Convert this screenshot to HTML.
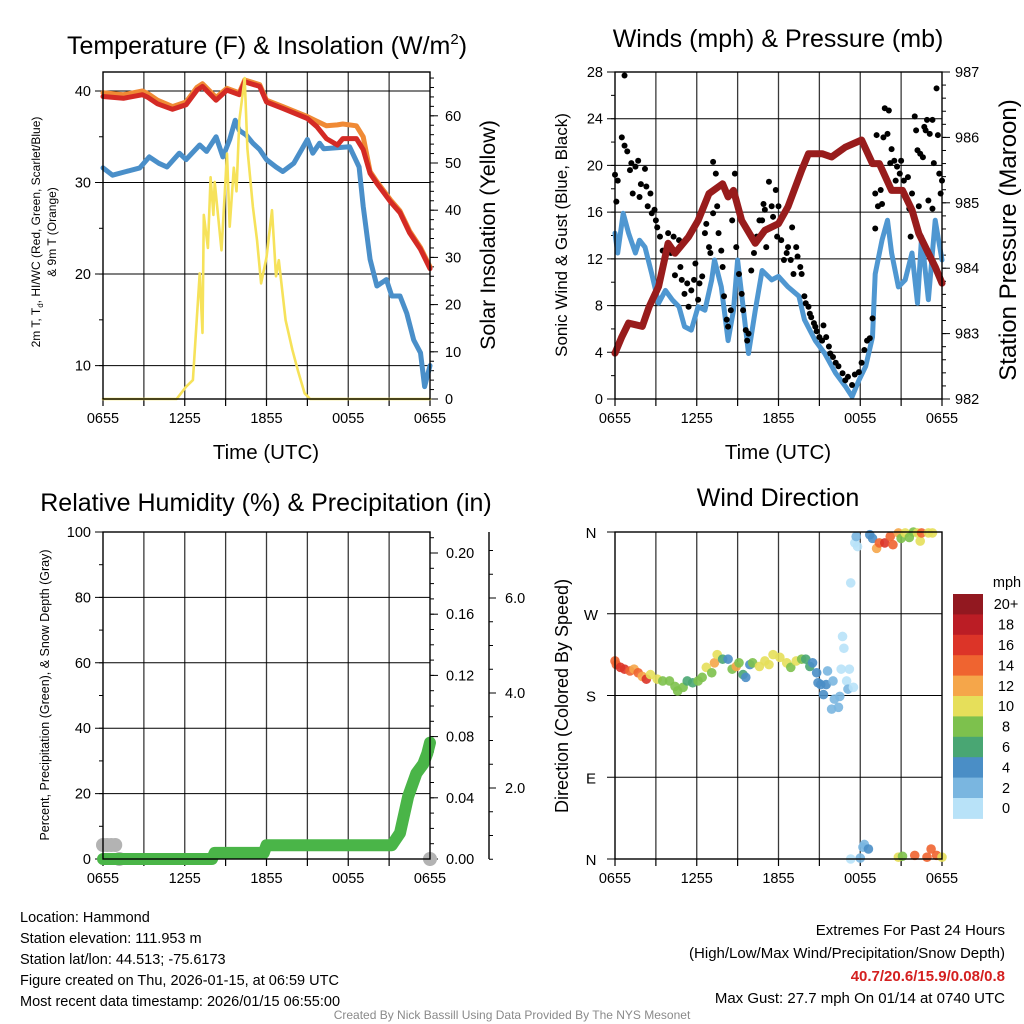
<!DOCTYPE html>
<html><head><meta charset="utf-8"><style>
html,body{margin:0;padding:0;background:#fff;}
svg{display:block;font-family:"Liberation Sans",Arial,sans-serif;}
</style></head><body>
<svg id="chart" width="1024" height="1024" viewBox="0 0 1024 1024" xmlns="http://www.w3.org/2000/svg">
<rect width="1024" height="1024" fill="#fff"/>
<text x="267" y="54" font-size="25" text-anchor="middle">Temperature (F) &amp; Insolation (W/m<tspan font-size="15" dy="-10">2</tspan><tspan dy="10">)</tspan></text>
<text x="778" y="47" font-size="25" text-anchor="middle">Winds (mph) &amp; Pressure (mb)</text>
<text x="266" y="511" font-size="25" text-anchor="middle">Relative Humidity (%) &amp; Precipitation (in)</text>
<text x="778" y="506" font-size="25" text-anchor="middle">Wind Direction</text>
<text x="266" y="459" font-size="20.5" text-anchor="middle">Time (UTC)</text>
<text x="778" y="459" font-size="20.5" text-anchor="middle">Time (UTC)</text>
<text transform="translate(40,232) rotate(-90)" font-size="12" text-anchor="middle">2m T, T<tspan font-size="8" dy="3">d</tspan><tspan dy="-3">, HI/WC (Red, Green, Scarlet/Blue)</tspan></text>
<text transform="translate(56,232) rotate(-90)" font-size="12" text-anchor="middle">&amp; 9m T (Orange)</text>
<text transform="translate(495,235) rotate(-90)" font-size="21.5" text-anchor="middle">Solar Insolation (Yellow)</text>
<text transform="translate(567,235) rotate(-90)" font-size="17" text-anchor="middle">Sonic Wind &amp; Gust (Blue, Black)</text>
<text transform="translate(1016,240) rotate(-90)" font-size="24" text-anchor="middle">Station Pressure (Maroon)</text>
<text transform="translate(49,695) rotate(-90)" font-size="12.5" text-anchor="middle">Percent, Precipitation (Green), &amp; Snow Depth (Gray)</text>
<text transform="translate(568,696) rotate(-90)" font-size="18" text-anchor="middle">Direction (Colored By Speed)</text>
<g font-size="14.5">
<text x="20" y="922">Location: Hammond</text>
<text x="20" y="943">Station elevation: 111.953 m</text>
<text x="20" y="964">Station lat/lon: 44.513; -75.6173</text>
<text x="20" y="985">Figure created on Thu, 2026-01-15, at 06:59 UTC</text>
<text x="20" y="1006">Most recent data timestamp: 2026/01/15 06:55:00</text>
</g>
<g font-size="15" text-anchor="end">
<text x="1005" y="935">Extremes For Past 24 Hours</text>
<text x="1005" y="958">(High/Low/Max Wind/Precipitation/Snow Depth)</text>
<text x="1005" y="981" fill="#d42020" font-weight="bold">40.7/20.6/15.9/0.08/0.8</text>
<text x="1005" y="1003">Max Gust: 27.7 mph On 01/14 at 0740 UTC</text>
</g>
<text x="512" y="1019" font-size="12" fill="#8a8a8a" text-anchor="middle">Created By Nick Bassill Using Data Provided By The NYS Mesonet</text>
</svg>
<script>
// ---------- data ----------
const xTickLabels = ["0655","1255","1855","0055","0655"];
const tempHours = [0,1.5,2.9,3.3,4,5.1,6.1,6.9,7.3,8.3,9.1,10,10.4,11.5,12,13.2,15,15.7,16.4,17.2,17.6,18.6,19.1,19.6,20.1,21.1,21.8,22.5,23.3,24];
const tempRed = [39.4,39.2,39.6,39.3,38.6,38.0,38.5,40.1,40.5,39.0,40.1,39.6,41.0,40.5,38.8,38.1,37.0,36.1,34.8,34.1,34.8,34.8,33.6,31.0,29.9,27.9,26.7,24.5,22.7,20.6];
const temp9m = [39.8,39.6,40.0,39.7,39.0,38.3,38.8,40.4,40.8,39.3,40.3,39.8,41.2,40.7,39.0,38.3,37.2,36.7,36.2,36.3,36.4,36.2,35.0,31.2,30.1,28.1,26.9,24.7,22.9,20.8];
const dewHours = [0,0.7,1.7,2.7,3.4,4.1,4.7,5.6,6.1,7.1,7.6,8.3,8.8,9.3,9.7,10,10.5,11,11.5,12,12.7,13.2,14,15,15.4,15.9,16.2,18.1,18.8,19.1,19.6,20.1,20.8,21.2,21.8,22.3,22.8,23.3,23.6,24];
const dewVals = [31.6,30.8,31.2,31.6,32.8,32.1,31.7,33.2,32.5,34.1,33.4,35.0,32.8,34.7,36.8,35.7,35.2,34.3,33.6,32.5,31.7,31.2,32.1,34.7,33.2,34.3,33.7,33.9,31.7,27.4,21.6,18.7,19.4,17.6,17.6,15.7,12.8,11.4,7.7,10.0];
const solarHours = [0,5.4,6.1,6.6,7.1,7.3,7.4,7.7,7.9,8.1,8.2,8.7,9.1,9.3,9.6,9.8,10,10.4,10.6,11,11.3,11.6,12,12.4,12.7,12.9,13.4,13.9,14.3,14.8,15.2,24];
const solarVals = [0,0,2.6,4,26.6,14,39,32,47,39,46,31.5,52,36.5,49,44,59,68,53,40.7,33.7,24.5,30,40,26,29.4,16.7,10.4,6.1,1.2,0,0];
const tempTicks = [10,20,30,40];
const solarTicks = [0,10,20,30,40,50,60];

const windHours = [0,0.2,0.6,1,1.5,1.8,2.2,2.7,3.2,3.7,4.2,4.7,5.1,5.6,6.1,6.6,7.1,7.3,7.8,8.3,8.7,9,9.4,9.8,10.3,10.8,11.5,12,12.7,13.5,13.9,14.7,15.4,16.2,16.9,17.4,17.9,18.4,18.9,19.1,19.6,20,20.3,20.8,21.3,21.8,22.2,22.5,23,23.5,24];
const windVals = [14.2,12.5,15.9,14.2,12.5,13.6,13.0,10.7,8.2,9.3,8.5,7.9,6.2,5.9,7.9,7.6,10.2,11.9,9.6,5.0,7.6,11.9,7.9,3.9,7.6,11.0,10.2,10.5,9.6,8.8,6.8,5.0,3.9,2.2,1.1,0.2,1.6,2.8,5.3,10.7,13.6,15.3,12.5,9.6,10.2,12.5,8.2,13.9,8.5,15.3,11.9];
const gustHours = [0,0.1,0.2,0.5,0.7,0.7,0.9,1.1,1.2,1.3,1.5,1.7,1.8,1.9,2.2,2.3,2.4,2.6,2.7,2.9,3.0,3.1,3.3,3.5,3.6,3.9,4.1,4.3,4.4,4.7,4.8,4.9,5.1,5.3,5.4,5.6,5.8,5.9,6.1,6.2,6.4,6.6,6.7,6.9,7.0,7.2,7.2,7.4,7.5,7.6,7.8,7.9,8.0,8.2,8.3,8.5,8.6,8.8,8.9,9.1,9.3,9.4,9.6,9.7,9.8,10.0,10.2,10.4,10.6,10.8,10.9,11.0,11.1,11.3,11.5,11.6,11.8,11.9,12.0,12.2,12.4,12.6,12.7,12.9,13.0,13.1,13.3,13.4,13.6,13.7,13.9,14.0,14.2,14.3,14.4,14.6,14.7,14.8,15.0,15.2,15.3,15.5,15.7,15.8,16.0,16.2,16.4,16.7,16.9,17.1,17.4,17.6,17.9,18.1,18.3,18.5,18.7,18.9,19.1,19.1,19.2,19.3,19.5,19.6,19.7,19.8,20.0,20.1,20.2,20.3,20.5,20.6,20.7,20.9,21.0,21.2,21.3,21.5,21.6,21.7,21.8,22.0,22.1,22.2,22.3,22.4,22.6,22.7,22.8,22.9,23.0,23.1,23.3,23.3,23.4,23.6,23.7,23.8,23.9,24.0];
const gustVals = [19.2,16.9,18.7,22.4,27.7,21.7,21.2,19.6,20.2,17.6,19.9,20.4,17.3,18.4,19.7,18.2,16.5,17.6,15.9,16.2,15.3,14.7,13.9,12.7,11.9,14.2,12.5,13.9,10.6,13.6,11.3,10.2,9.0,9.9,7.9,9.3,10.2,11.6,8.5,9.9,10.5,14.2,15.0,13.0,12.5,15.9,20.3,19.3,16.5,14.2,12.7,11.3,8.8,6.8,6.2,7.6,15.3,19.3,13.0,10.7,9.0,7.6,5.9,5.0,5.6,11.0,12.5,13.9,15.3,15.3,16.7,16.2,13.0,18.6,16.5,15.6,17.9,13.9,16.5,13.6,11.9,12.5,13.0,11.9,14.7,10.7,13.0,12.2,11.3,10.7,8.8,8.2,7.9,7.3,7.0,6.5,6.2,5.8,5.3,5.0,6.3,5.3,4.5,3.9,3.6,3.1,2.8,2.2,1.6,1.9,1.2,2.1,2.3,3.1,4.2,5.0,5.2,6.9,14.6,17.6,22.6,16.5,17.9,16.7,22.4,24.9,22.7,24.7,20.2,21.4,20.4,18.7,19.9,19.3,20.4,18.7,17.3,19.0,16.3,13.9,17.6,24.2,23.0,21.3,16.5,21.0,20.7,23.3,23.0,23.9,17.0,22.7,23.9,16.3,20.2,26.6,22.6,19.3,17.6,18.7];
const presHours = [0,0.5,1,2,2.5,3.2,3.9,4.4,5.4,6.1,6.9,7.9,8.3,8.7,9.3,10.3,11,12,12.7,13.7,14.2,15.2,15.9,16.9,18.1,18.9,19.4,20.3,21.1,21.8,22.3,23,23.5,24];
const presVals = [982.70,982.95,983.16,983.11,983.41,983.72,984.38,984.23,984.48,984.73,985.14,985.29,985.09,985.19,984.73,984.38,984.58,984.68,984.94,985.50,985.75,985.75,985.70,985.85,985.96,985.60,985.60,985.19,985.19,984.89,984.53,984.23,984.02,983.77];
const windTicks = [0,4,8,12,16,20,24,28];
const presTicks = [982,983,984,985,986,987];

const precipHours = [0,8.0,8.2,11.8,12.0,21.2,21.8,22.4,23.0,23.5,23.8,24];
const precipVals = [0,0,0.004,0.004,0.009,0.009,0.017,0.041,0.056,0.062,0.069,0.076];
const snowHours = [0,0.3,0.6,0.9,1.2,24];
const snowVals = [0.8,0.8,0.8,0.8,0.5,0.5];
const pctTicks = [0,20,40,60,80,100];
const precipTicks = [0,0.04,0.08,0.12,0.16,0.20];
const precipTickLabels = ["0.00","0.04","0.08","0.12","0.16","0.20"];
const snowTicks = [2,4,6];
const snowTickLabels = ["2.0","4.0","6.0"];

const dirHours = [0.0,0.1,0.4,0.7,1.1,1.4,1.7,2.0,2.3,2.6,3.1,3.5,4.0,4.4,4.6,5.0,5.3,5.7,6.1,6.4,6.7,7.1,7.3,7.5,7.9,8.3,8.6,8.9,9.1,9.4,9.6,9.9,10.1,10.6,11.0,11.3,11.6,12.1,12.6,12.9,13.3,13.7,14.0,14.3,14.5,14.8,14.9,15.1,15.3,15.5,15.6,15.9,16.0,16.1,16.4,16.5,16.6,16.7,16.8,17.0,17.1,17.2,17.3,17.5,17.6,17.7,17.8,17.3,18.0,18.2,18.3,18.6,18.7,18.9,19.2,19.4,19.8,20.2,20.4,20.8,21.0,21.3,21.6,21.9,22.2,22.4,22.5,23.0,23.3,20.8,21.1,22.0,22.9,23.2,23.6,24.0];
const dirDeg = [218,214,211,209,207,209,205,201,198,203,198,196,196,190,185,189,196,194,196,200,211,205,216,225,220,220,209,212,216,203,200,214,216,212,218,214,225,222,216,211,218,220,220,212,216,205,194,192,181,192,207,165,196,176,167,179,209,245,232,196,187,209,304,189,348,355,344,0,1,13,16,11,357,353,342,348,348,355,346,359,353,359,354,360,359,350,359,359,359,2,3,4,2,11,4,2];
const dirSpeed = [14,14,16,16,14,12,14,12,16,10,10,8,8,8,8,8,6,6,8,8,10,8,12,10,6,4,8,12,8,6,4,4,8,10,10,10,10,10,10,8,10,8,6,6,4,4,4,4,4,4,2,2,2,2,2,2,0,0,0,0,2,0,0,0,0,2,0,0,2,2,2,4,4,4,12,14,16,14,14,12,8,10,8,8,10,10,14,10,10,10,8,14,14,14,14,10];
const dirLabels = ["N","E","S","W","N"];
const speedBins = ["0","2","4","6","8","10","12","14","16","18","20+"];
const speedColors = ["#b8e2f8","#7ab6e0","#4a8ec6","#49a673","#7dc14d","#e6df5a","#f5a64a","#ef6430","#dc3428","#bb1d25","#921820"];

// ---------- helpers ----------
const NS = "http://www.w3.org/2000/svg";
const svg = document.getElementById("chart");
function mk(tag, parent){ const e=document.createElementNS(NS,tag); (parent||svg).appendChild(e); return e; }
function set(e,o){ for(const k in o) e.setAttribute(k,o[k]); return e; }

function makePanel(name,x0,x1,y0,y1){
  const g=mk("g");
  
  
  const p={g,x0,x1,y0,y1,sx:h=>x0+h/24*(x1-x0)};
  for(let i=1;i<8;i++){
    const x=p.sx(i*3);
    const l=mk("line",g); set(l,{x1:x,x2:x,y1:y0,y2:y1,stroke:"#3a3a3a","stroke-width":1.3});
    
    
  }
  for(let i=0;i<=8;i++){
    const x=p.sx(i*3);
    const t=mk("line",g); set(t,{x1:x,x2:x,y1:y1,y2:y1+7,stroke:"#000","stroke-width":1.2});
    
    
  }
  xTickLabels.forEach((s,i)=>{
    const t=mk("text",g); set(t,{x:p.sx(i*6),y:y1+24,"font-size":14.5,"text-anchor":"middle"});
    t.textContent=s;
    
    
  });
  return p;
}
function frame(p){
  const r=mk("rect",p.g); set(r,{x:p.x0,y:p.y0,width:p.x1-p.x0,height:p.y1-p.y0,fill:"none",stroke:"#000","stroke-width":1.4});
  
  
}
function hGrid(p,vals,fy){
  vals.forEach(v=>{
    const y=fy(v);
    const l=mk("line",p.g); set(l,{x1:p.x0-8,x2:p.x1,y1:y,y2:y,stroke:"#000","stroke-width":1});
    
    
  });
}
function leftLabels(p,vals,labels,fy){
  vals.forEach((v,i)=>{
    const t=mk("text",p.g); set(t,{x:p.x0-12,y:fy(v)+5,"font-size":14.5,"text-anchor":"end"});
    t.textContent=labels[i];
    
    
  });
}
function minorTicks(p,x,dir,from,to,step,fy,len){
  for(let v=from; v<=to+1e-9; v+=step){
    const y=fy(v); if(y<p.y0-0.5||y>p.y1+0.5) continue;
    const l=mk("line",p.g); set(l,{x1:x,x2:x+dir*len,y1:y,y2:y,stroke:"#000","stroke-width":1});
    
    
  }
}
function rightLabels(p,x,vals,labels,fy){
  vals.forEach((v,i)=>{
    const t=mk("text",p.g); set(t,{x:x,y:fy(v)+5,"font-size":14.5});
    t.textContent=labels[i];
    
    
  });
}
function polyline(p,hs,vs,fy,color,w,name){
  const pts=hs.map((h,i)=>p.sx(h).toFixed(1)+","+fy(vs[i]).toFixed(1)).join(" ");
  const l=mk("polyline",p.g); set(l,{points:pts,fill:"none",stroke:color,"stroke-width":w,"stroke-linejoin":"round","stroke-linecap":"round"});
  
  
}

// ---------- panel 1: temperature ----------
{
  const p=makePanel("temperature",103,430,72,399);
  const yT=v=>91+(40-v)*9.153;
  const yI=v=>399-v*4.72;
  hGrid(p,tempTicks,yT);
  minorTicks(p,p.x0,-1,10,40,5,yT,4);
  leftLabels(p,tempTicks,tempTicks.map(String),yT);
  minorTicks(p,p.x1,1,0,68,2,yI,4);
  minorTicks(p,p.x1,1,0,60,10,yI,8);
  rightLabels(p,445,solarTicks,solarTicks.map(String),yI);
  polyline(p,dewHours,dewVals,yT,"#4a8fc9",5,"dewpoint-line");
  polyline(p,tempHours,temp9m,yT,"#f08a35",5,"temp-9m-line");
  polyline(p,tempHours,tempRed,yT,"#d42a25",5,"temp-2m-line");
  polyline(p,solarHours,solarVals,yI,"#f6e25a",2.6,"insolation-line");
  frame(p);
}
// ---------- panel 2: wind ----------
{
  const p=makePanel("wind",615,942,72,399);
  const yW=v=>399-v*(327/28);
  const yP=v=>399-(v-982)*65.4;
  hGrid(p,windTicks,yW);
  minorTicks(p,p.x0,-1,0,28,2,yW,4);
  leftLabels(p,windTicks,windTicks.map(String),yW);
  minorTicks(p,p.x1,1,982,987,0.2,yP,4);
  minorTicks(p,p.x1,1,982,987,1,yP,8);
  rightLabels(p,955,presTicks,presTicks.map(String),yP);
  polyline(p,windHours,windVals,yW,"#4f97d1",5,"sustained-wind-line");
  gustHours.forEach((h,i)=>{
    const c=mk("circle",p.g); set(c,{cx:p.sx(h),cy:yW(gustVals[i]),r:3,fill:"#000"});
    
    
  });
  polyline(p,presHours,presVals,yP,"#981c1c",7,"pressure-line");
  frame(p);
}
// ---------- panel 3: humidity / precip ----------
{
  const p=makePanel("humidity",103,430,532,859);
  const yPct=v=>859-v*3.27;
  const yPr=v=>859-v*1530;
  const ySn=v=>883-v*47.5;
  hGrid(p,pctTicks,yPct);
  minorTicks(p,p.x0,-1,0,100,10,yPct,4);
  leftLabels(p,pctTicks,pctTicks.map(String),yPct);
  minorTicks(p,p.x1,1,0,0.21,0.01,yPr,4);
  minorTicks(p,p.x1,1,0,0.2,0.04,yPr,8);
  rightLabels(p,446,precipTicks,precipTickLabels,yPr);
  const ax=mk("line",p.g); set(ax,{x1:489,x2:489,y1:532,y2:859,stroke:"#000","stroke-width":1.4});
  
  
  for(let v=0.5; v<=7.3; v+=0.5){
    const y=ySn(v); const major=Math.abs(v-Math.round(v/2)*2)<1e-6;
    const l=mk("line",p.g); set(l,{x1:489,x2:489+(major?7:4),y1:y,y2:y,stroke:"#000","stroke-width":1});
    
    
  }
  rightLabels(p,505,snowTicks,snowTickLabels,ySn);
  snowHours.forEach((h,i)=>{
    const c=mk("circle",p.g); set(c,{cx:p.sx(h),cy:Math.min(ySn(snowVals[i]),859),r:7,fill:"#b3b3b3"});
    
    
  });
  polyline(p,precipHours,precipVals,yPr,"#4ab548",12,"precipitation-line");
  frame(p);
}
// ---------- panel 4: direction ----------
{
  const p=makePanel("direction",615,942,532,859);
  const yD=d=>859-d/360*327;
  const dirVals=[0,90,180,270,360];
  hGrid(p,dirVals,yD);
  dirVals.forEach((d,i)=>{
    const t=mk("text",p.g); set(t,{x:591,y:yD(d)+6,"font-size":15,"text-anchor":"middle"});
    t.textContent=dirLabels[i];
    
    
  });
  dirHours.forEach((h,i)=>{
    const bin=Math.min(10,Math.floor(dirSpeed[i]/2));
    const c=mk("circle",p.g); set(c,{cx:p.sx(h),cy:yD(dirDeg[i]),r:4.8,fill:speedColors[bin],"fill-opacity":0.9});
    
    
  });
  frame(p);
  const cb=mk("g");
  
  
  const top=594, bh=20.4;
  speedBins.forEach((lab,i)=>{
    const k=10-i; const y=top+i*bh;
    const r=mk("rect",cb); set(r,{x:953,y:y,width:30,height:bh+0.5,fill:speedColors[k]});
    
    
    const t=mk("text",cb); set(t,{x:1006,y:y+bh/2+5,"font-size":14.5,"text-anchor":"middle"});
    t.textContent=speedBins[k];
    
    
  });
  const u=mk("text",cb); set(u,{x:1007,y:587,"font-size":14.5,"text-anchor":"middle"});
  u.textContent="mph";
  
  
}
</script>
</body></html>
